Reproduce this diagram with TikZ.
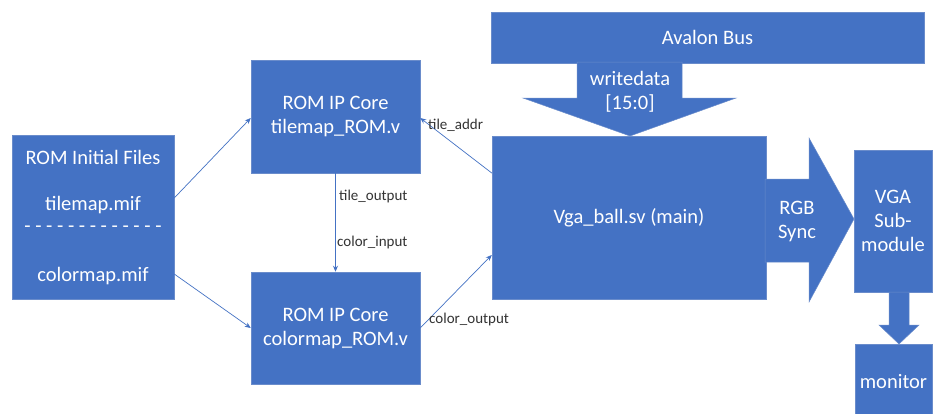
\documentclass[tikz,border=0pt]{standalone}
\usepackage{fontspec}
\setmainfont{Carlito}
\usetikzlibrary{calc,arrows.meta}
\definecolor{officeblue}{HTML}{4472C4}
\definecolor{edgeblue}{HTML}{6A8CCB}
\definecolor{labelgray}{HTML}{333333}
\tikzset{
  block/.style={draw=edgeblue, line width=0.5pt, fill=officeblue, text=white,
    font=\fontsize{20.5}{24}\selectfont, align=center, inner sep=0pt},
  fat/.style={draw=edgeblue, line width=0.5pt, fill=officeblue},
  inner/.style={text=white, font=\fontsize{20.5}{24}\selectfont, inner sep=0pt, align=center},
  conn/.style={draw=officeblue, line width=0.7pt, -{Stealth[length=6pt,width=5pt]}},
  sig/.style={text=labelgray, font=\fontsize{15}{18}\selectfont, inner sep=0pt, anchor=west}
}
\begin{document}
\begin{tikzpicture}[x=1pt,y=-1pt]
  \useasboundingbox (0,0) rectangle (935,413);
  \fill[white] (0,0) rectangle (935,413);
  \clip (0,0) rectangle (935,413);

  % ROM init files
  \node[block, minimum width=162pt, minimum height=164pt] (files) at (93,217) {};
  \node[inner] (ftitle) at (93,157) {ROM Initial Files};
  \node[inner] (ftile) at (93,205) {tilemap.mif};
  \node[inner] (fsep) at (93,229) {- - - - - - - - - - - - -};
  \node[inner] (fcolor) at (93,276) {colormap.mif};

  % ROM IP cores
  \node[block, minimum width=169pt, minimum height=113pt] (tilemap) at (335.5,116.5)
    {ROM IP Core\\tilemap\_ROM.v};
  \node[block, minimum width=169pt, minimum height=112pt] (colormap) at (335.5,328)
    {ROM IP Core\\colormap\_ROM.v};

  % main module and bus
  \node[block, minimum width=274pt, minimum height=163pt] (main) at (629,217.5)
    {Vga\_ball.sv (main)};
  \node[block, minimum width=433pt, minimum height=51pt] (avalon) at (707.5,37.5)
    {Avalon Bus};

  % VGA sub-module and monitor
  \node[block, minimum width=78pt, minimum height=142pt] (vga) at (893,221)
    {VGA\\Sub-\\module};
  \node[block, minimum width=77pt, minimum height=116pt] (monitor) at (893.5,402)
    {};
  \node[inner] (montext) at (893.5,382) {monitor};

  % block arrows
  \draw[fat] (577,62) -- (682,62) -- (682,98) -- (736,98) -- (630,136)
    -- (523,98) -- (577,98) -- cycle;
  \node[inner] (wdata) at (630,92) {writedata\\{}[15:0]};

  \draw[fat] (765,179) -- (809,179) -- (809,138) -- (854,219) -- (809,302)
    -- (809,262) -- (765,262) -- cycle;
  \node[inner] (rgb) at (797,221) {RGB\\Sync};

  \draw[fat] (889,292) -- (909,292) -- (909,325) -- (919,325) -- (899,344)
    -- (879,325) -- (889,325) -- cycle;

  % signal connectors
  \draw[conn] ($(files.east)+(0,-19)$) -- ($(tilemap.west)+(0,1.5)$);
  \draw[conn] ($(files.east)+(0,57)$) -- (colormap.west);
  \draw[conn] ($(main.west)+(0,-44.5)$) -- ($(tilemap.east)+(0,1.5)$);
  \draw[conn] (colormap.east) -- ($(main.west)+(0,37.5)$);
  \draw[conn] (tilemap.south) -- (colormap.north);

  % signal names
  \node[sig] (ltileaddr) at (428,125) {tile\_addr};
  \node[sig] (ltileout) at (339,196) {tile\_output};
  \node[sig] (lcolorin) at (337,242) {color\_input};
  \node[sig] (lcolorout) at (429,319) {color\_output};
\end{tikzpicture}
\end{document}
